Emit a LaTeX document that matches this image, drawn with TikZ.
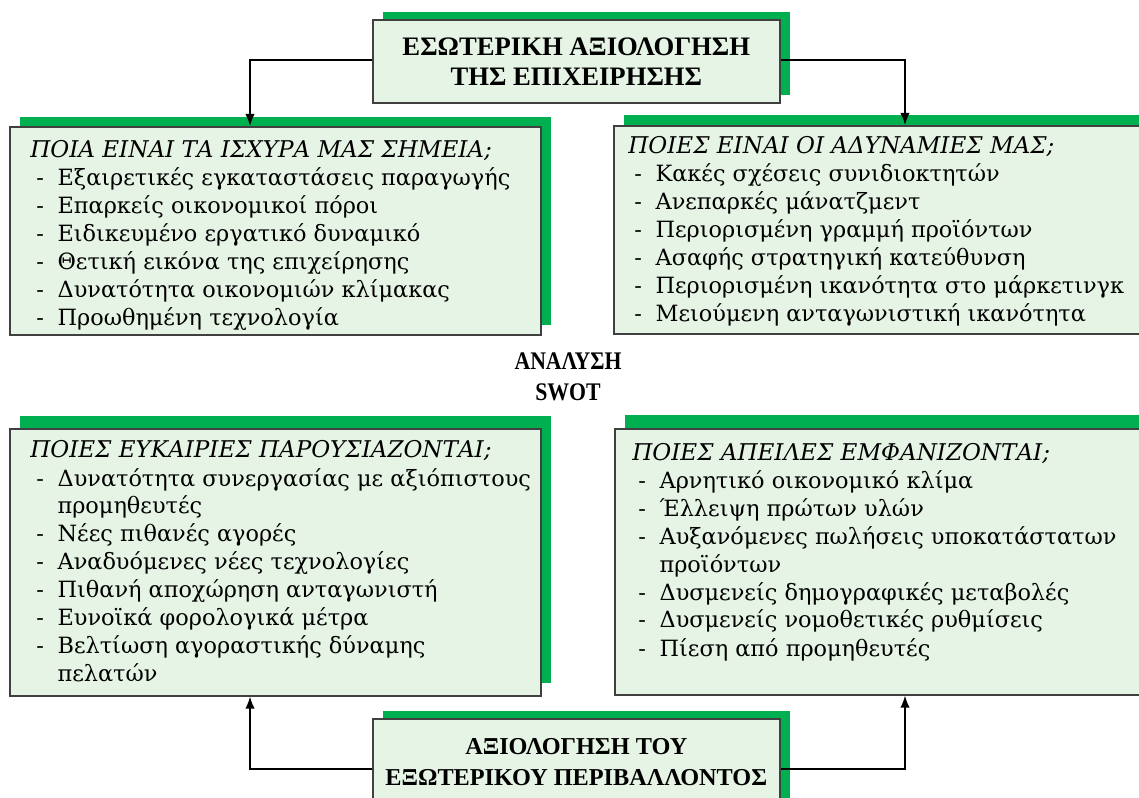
\documentclass[tikz,border=0pt]{standalone}
\usepackage{fontspec}
\setmainfont{DejaVu Serif}
\newfontfamily\hdfont{Liberation Serif}
\usetikzlibrary{arrows.meta,shadows}
\definecolor{boxfill}{HTML}{E6F4E5}
\definecolor{shadowgreen}{HTML}{00B050}
\definecolor{boxline}{HTML}{404040}
\newcommand{\itm}[1]{\hspace*{4.5pt}\makebox[16pt][l]{-}#1}
\newcommand{\cnt}[1]{\hspace*{20.5pt}#1}
\newcommand{\hd}[1]{{\itshape\fontsize{17.3}{21}\selectfont #1}}
\tikzset{
  mainbox/.style={fill=boxfill, draw=boxline, line width=1.2pt, inner sep=0pt, anchor=north west},
  gshadow/.style 2 args={general shadow={fill=shadowgreen, shadow xshift=#1, shadow yshift=#2}},
  titletxt/.style={font=\hdfont\bfseries\fontsize{20}{22.5}\selectfont, align=center},
  listtxt/.style={anchor=base west, inner sep=0pt, font=\fontsize{16.8}{21}\selectfont},
  arr/.style={line width=1.1pt, -{Latex[length=9pt,width=7pt]}}
}
\begin{document}
\begin{tikzpicture}[x=0.75pt,y=-0.75pt]
\useasboundingbox (0,0) rectangle (1139,798);
% boxes
\node[mainbox, gshadow={7.5pt}{6pt}, minimum width=305.25pt, minimum height=62.25pt] (top) at (372,19) {};
\node[titletxt] (toptxt) at (top.center) {ΕΣΩΤΕΡΙΚΗ ΑΞΙΟΛΟΓΗΣΗ\\ΤΗΣ ΕΠΙΧΕΙΡΗΣΗΣ};
\node[mainbox, gshadow={7.5pt}{7.5pt}, minimum width=398.25pt, minimum height=156pt] (tl) at (9,126) {};
\node[mainbox, gshadow={7.5pt}{8pt}, minimum width=405pt, minimum height=156pt] (tr) at (613,125) {};
\node[mainbox, gshadow={7.5pt}{9.75pt}, minimum width=398.25pt, minimum height=200.25pt] (bl) at (9,428) {};
\node[mainbox, gshadow={7.5pt}{10.5pt}, minimum width=405pt, minimum height=199.5pt] (br) at (614,428) {};
\node[mainbox, gshadow={7.5pt}{6pt}, minimum width=305.25pt, minimum height=69pt] (bot) at (372,718) {};
\node[titletxt, font=\hdfont\bfseries\fontsize{18.2}{23}\selectfont] (bottxt) at ([yshift=2pt]bot.center) {ΑΞΙΟΛΟΓΗΣΗ ΤΟΥ\\ΕΞΩΤΕΡΙΚΟΥ ΠΕΡΙΒΑΛΛΟΝΤΟΣ};
\node[titletxt, font=\hdfont\bfseries\fontsize{19}{23}\selectfont] (swot) at (568,377) {\scalebox{0.86}[1]{ΑΝΑΛΥΣΗ}\\\scalebox{0.86}[1]{SWOT}};
% lists
\node[listtxt] (tllist) at (30,158) {\begin{tabular}[t]{@{}l@{}}
\hd{ΠΟΙΑ ΕΙΝΑΙ ΤΑ ΙΣΧΥΡΑ ΜΑΣ ΣΗΜΕΙΑ;}\\
\itm{Εξαιρετικές εγκαταστάσεις παραγωγής}\\
\itm{Επαρκείς οικονομικοί πόροι}\\
\itm{Ειδικευμένο εργατικό δυναμικό}\\
\itm{Θετική εικόνα της επιχείρησης}\\
\itm{Δυνατότητα οικονομιών κλίμακας}\\
\itm{Προωθημένη τεχνολογία}
\end{tabular}};
\node[listtxt] (trlist) at (628,154) {\begin{tabular}[t]{@{}l@{}}
\hd{ΠΟΙΕΣ ΕΙΝΑΙ ΟΙ ΑΔΥΝΑΜΙΕΣ ΜΑΣ;}\\
\itm{Κακές σχέσεις συνιδιοκτητών}\\
\itm{Ανεπαρκές μάνατζμεντ}\\
\itm{Περιορισμένη γραμμή προϊόντων}\\
\itm{Ασαφής στρατηγική κατεύθυνση}\\
\itm{Περιορισμένη ικανότητα στο μάρκετινγκ}\\
\itm{Μειούμενη ανταγωνιστική ικανότητα}
\end{tabular}};
\node[listtxt] (bllist) at (30,458) {\begin{tabular}[t]{@{}l@{}}
\hd{ΠΟΙΕΣ ΕΥΚΑΙΡΙΕΣ ΠΑΡΟΥΣΙΑΖΟΝΤΑΙ;}\\
\itm{Δυνατότητα συνεργασίας με αξιόπιστους}\\
\cnt{προμηθευτές}\\
\itm{Νέες πιθανές αγορές}\\
\itm{Αναδυόμενες νέες τεχνολογίες}\\
\itm{Πιθανή αποχώρηση ανταγωνιστή}\\
\itm{Ευνοϊκά φορολογικά μέτρα}\\
\itm{Βελτίωση αγοραστικής δύναμης}\\
\cnt{πελατών}
\end{tabular}};
\node[listtxt] (brlist) at (632,460) {\begin{tabular}[t]{@{}l@{}}
\hd{ΠΟΙΕΣ ΑΠΕΙΛΕΣ ΕΜΦΑΝΙΖΟΝΤΑΙ;}\\
\itm{Αρνητικό οικονομικό κλίμα}\\
\itm{Έλλειψη πρώτων υλών}\\
\itm{Αυξανόμενες πωλήσεις υποκατάστατων}\\
\cnt{προϊόντων}\\
\itm{Δυσμενείς δημογραφικές μεταβολές}\\
\itm{Δυσμενείς νομοθετικές ρυθμίσεις}\\
\itm{Πίεση από προμηθευτές}
\end{tabular}};
% connectors
\coordinate (lx) at (250,0);
\coordinate (rx) at (905,0);
\draw[arr] ([yshift=1pt]top.west) -| (lx |- tl.north);
\draw[arr] ([yshift=1pt]top.east) -| (rx |- tr.north);
\draw[arr] ([yshift=-3pt]bot.west) -| (lx |- bl.south);
\draw[arr] ([yshift=-3pt]bot.east) -| (rx |- br.south);
\end{tikzpicture}
\end{document}
